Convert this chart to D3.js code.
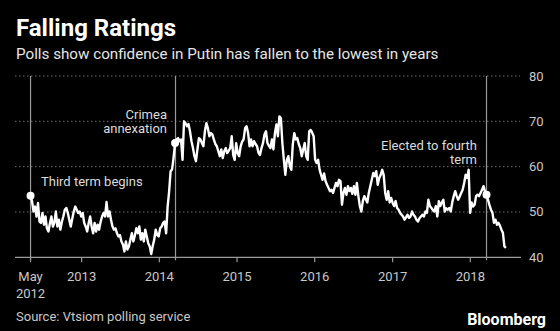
<!DOCTYPE html>
<html>
<head>
    <meta charset="utf-8" />
    <title>Falling Ratings</title>
    <style>
        body { margin: 0; background: #000; }
        svg { display: block; background: #000; font-family: Roboto, "Liberation Sans", sans-serif; }
        .title { fill: #fff; font-size: 24px; font-weight: bold; }
        .subtitle { fill: #e6e6e6; font-size: 15.2px; }
        .tick-label { fill: #c8c8c8; font-size: 13px; }
        .note { fill: #dcdcdc; font-size: 13px; }
        .source { fill: #c8c8c8; font-size: 13px; }
        .brand { fill: #fff; font-size: 16px; font-weight: bold; }
        .grid { stroke: #6e6e6e; stroke-width: 1; stroke-dasharray: 1.5, 2.5; }
        .axis-line { stroke: #9a9a9a; stroke-width: 1.2; }
        .event-line { stroke: #9a9a9a; stroke-width: 1.2; }
        .series { fill: none; stroke: #fff; stroke-width: 2.4px; stroke-linejoin: round; }
    </style>
    <script src="https://cdn.jsdelivr.net/npm/d3@7/dist/d3.min.js"></script>
</head>
<body>
    <svg width="560" height="331"></svg>

    <script>
        // weekly VTsIOM confidence readings, first week of May 2012 onward
        var firstWeek = '2012-05-06';
        var ratings = [
            53.6, 52.4, 50.1, 51.2, 49.0, 52.0, 47.9, 47.6, 49.8, 47.2,
            49.0, 46.4, 45.7, 47.5, 49.0, 46.8, 47.6, 50.1, 46.8, 48.3,
            46.1, 47.8, 49.0, 50.5, 50.9, 49.8, 48.3, 46.8, 48.5, 50.1,
            51.2, 50.5, 49.8, 50.1, 49.0, 49.8, 47.6, 46.8, 45.7, 47.5,
            49.0, 46.8, 45.3, 47.6, 45.7, 47.2, 46.1, 47.8, 49.0, 49.8,
            49.0, 52.2, 49.0, 50.1, 48.3, 46.8, 46.1, 46.4, 45.3, 44.6,
            44.9, 43.5, 42.8, 41.3, 43.5, 41.7, 42.4, 43.9, 45.3, 43.5,
            44.8, 46.4, 45.3, 46.8, 43.9, 45.3, 43.5, 46.1, 44.6, 43.1,
            42.4, 40.7, 42.5, 43.9, 46.1, 44.9, 44.6, 46.4, 46.8, 47.6,
            47.9, 45.3, 51.2, 54.5, 59.0, 59.4, 62.0,
            // Crimea
            65.2,
            66.0, 66.3, 65.6, 66.0, 61.5, 70.0, 69.6, 68.9, 69.4,
            67.8, 65.6, 64.1, 62.3, 61.2, 63.8, 66.3, 66.0, 65.2,
            64.5, 67.8, 69.6, 68.5, 66.7, 67.4, 67.1, 66.0, 65.0,
            64.5, 63.4, 62.3, 63.8, 61.9, 63.4, 64.1, 63.0, 63.5,
            64.1, 66.7, 62.6, 61.5, 65.2, 63.0, 62.3, 64.5, 65.5,
            66.0, 68.5, 68.9, 67.4, 64.5, 66.0, 64.5, 65.6, 65.0,
            64.5, 63.0, 62.6, 64.1, 65.2, 67.1, 67.8, 65.2, 64.6,
            64.1, 66.0, 63.8, 67.4, 69.3, 66.7, 71.1, 70.7, 65.2, 61.5, 58.2,
            61.5, 62.3, 60.1, 59.3, 64.9, 67.4, 66.0, 66.3, 65.0,
            64.1, 62.3, 63.8, 65.2, 62.3, 61.5, 67.8, 68.1, 67.5,
            66.7, 61.5, 60.8, 61.5, 59.3, 58.2, 57.1, 58.5, 56.8,
            56.0, 55.3, 54.6, 54.9, 54.2, 55.3, 56.4, 55.7,
            57.1,
            56.8, 51.6, 54.2, 55.3, 53.8, 55.7, 54.6, 55.3, 54.0,
            55.7, 53.8, 56.4, 53.5, 51.3, 50.1, 52.4, 53.5, 52.8,
            52.1, 54.2, 55.7, 57.1, 58.6, 57.9, 59.0, 56.0, 57.5,
            58.2, 59.3, 58.2, 54.2, 52.7, 54.6, 52.1, 53.1, 52.0,
            51.3, 52.4, 50.9, 50.5, 49.8, 49.4, 49.0, 48.3, 48.8,
            49.4, 48.7, 49.0, 50.1, 49.4, 49.0, 48.3, 47.9, 48.6,
            49.0, 49.4, 49.0, 50.1, 49.8, 52.7, 51.3, 50.9, 50.4,
            50.1, 51.3, 49.0, 52.4, 51.3, 52.1, 52.7, 50.1, 50.8,
            50.5, 50.9, 50.1, 52.1, 53.5, 54.6, 53.5, 52.7, 53.4,
            54.2, 54.9, 56.4, 58.2, 57.5, 59.3, 49.8, 52.1, 51.2,
            51.6, 53.5, 53.8, 53.5, 54.2, 54.9, 55.7, 54.5,
            // re-election
            53.8,
            52.7, 51.5, 50.5, 49.8, 47.6, 48.3, 47.2, 47.6, 47.0,
            46.1, 45.4, 42.4, 42.1
        ];

        var yTicks = [40, 50, 60, 70, 80];
        var xTickYears = [2013, 2014, 2015, 2016, 2017, 2018];
        var eventDates = ['2012-05-06', '2014-03-18', '2018-03-18'];
        var eventNotes = [['Third term begins'], ['Crimea', 'annexation'], ['Elected to fourth', 'term']];

        var parse = d3.timeParse('%Y-%m-%d');
        var data = ratings.map(function(v, i) {
            return { date: d3.timeWeek.offset(parse(firstWeek), i), value: v };
        });

        var svg = d3.select('svg'),
            plotLeft = 15, plotRight = 521, plotTop = 76, plotBottom = 257.3;

        var x = d3.scaleTime()
            .domain([parse('2012-02-23'), parse('2018-08-27')])
            .range([plotLeft, plotRight]);

        var y = d3.scaleLinear()
            .domain([40, 80])
            .range([plotBottom, plotTop]);

        // titles
        svg.append('text').attr('class', 'title').attr('x', 16).attr('y', 36).text('Falling Ratings');
        svg.append('text').attr('class', 'subtitle').attr('x', 16).attr('y', 59)
            .text('Polls show confidence in Putin has fallen to the lowest in years');

        // grid + right-side labels
        svg.selectAll('.grid')
            .data(yTicks.filter(function(d) { return d > 40; }))
            .enter().append('line')
                .attr('class', 'grid')
                .attr('x1', plotLeft).attr('x2', plotRight - 1)
                .attr('y1', y).attr('y2', y);

        svg.selectAll('.y-label')
            .data(yTicks)
            .enter().append('text')
                .attr('class', 'tick-label y-label')
                .attr('x', 529)
                .attr('y', function(d) { return y(d) + 4.5; })
                .text(function(d) { return d; });

        // x axis
        svg.append('line').attr('class', 'axis-line')
            .attr('x1', plotLeft).attr('x2', plotRight).attr('y1', plotBottom).attr('y2', plotBottom);

        var xTicks = [parse(firstWeek)].concat(xTickYears.map(function(yr) { return new Date(yr, 0, 1); }));
        svg.selectAll('.x-tick')
            .data(xTicks)
            .enter().append('line')
                .attr('class', 'axis-line x-tick')
                .attr('x1', x).attr('x2', x)
                .attr('y1', plotBottom).attr('y2', plotBottom + 5);

        svg.selectAll('.x-label')
            .data(xTicks)
            .enter().append('text')
                .attr('class', 'tick-label x-label')
                .attr('text-anchor', 'middle')
                .attr('x', x)
                .attr('y', 281)
                .text(function(d, i) { return i === 0 ? 'May' : d3.timeFormat('%Y')(d); });
        svg.append('text').attr('class', 'tick-label')
            .attr('text-anchor', 'middle')
            .attr('x', x(xTicks[0]))
            .attr('y', 298)
            .text('2012');

        // event lines
        svg.selectAll('.event-line')
            .data(eventDates)
            .enter().append('line')
                .attr('class', 'event-line')
                .attr('x1', function(d) { return x(parse(d)); })
                .attr('x2', function(d) { return x(parse(d)); })
                .attr('y1', plotTop).attr('y2', plotBottom + 3);

        // series
        var line = d3.line()
            .x(function(d) { return x(d.date); })
            .y(function(d) { return y(d.value); });

        svg.append('path').datum(data).attr('class', 'series').attr('d', line);

        // dots at the data point nearest each event
        var bisect = d3.bisector(function(d) { return d.date; }).center;
        svg.selectAll('.dot')
            .data(eventDates.map(function(d) { return data[bisect(data, parse(d))]; }))
            .enter().append('circle')
                .attr('class', 'dot')
                .attr('cx', function(d) { return x(d.date); })
                .attr('cy', function(d) { return y(d.value); })
                .attr('r', 4)
                .attr('fill', '#fff');

        // annotations
        var notePos = [
            { x: 41, y: 186, anchor: 'start' },
            { x: 167, y: 119, anchor: 'end' },
            { x: 477, y: 150, anchor: 'end' }
        ];
        eventNotes.forEach(function(lines, i) {
            var t = svg.append('text')
                .attr('class', 'note')
                .attr('text-anchor', notePos[i].anchor)
                .attr('x', notePos[i].x)
                .attr('y', notePos[i].y);
            lines.forEach(function(s, j) {
                t.append('tspan').attr('x', notePos[i].x).attr('dy', j ? 14 : 0).text(s);
            });
        });

        // footer
        svg.append('text').attr('class', 'source').attr('x', 16).attr('y', 321).text('Source: Vtsiom polling service');
        svg.append('text').attr('class', 'brand').attr('x', 546).attr('y', 325)
            .attr('text-anchor', 'end').text('Bloomberg');
    </script>
</body>
</html>
